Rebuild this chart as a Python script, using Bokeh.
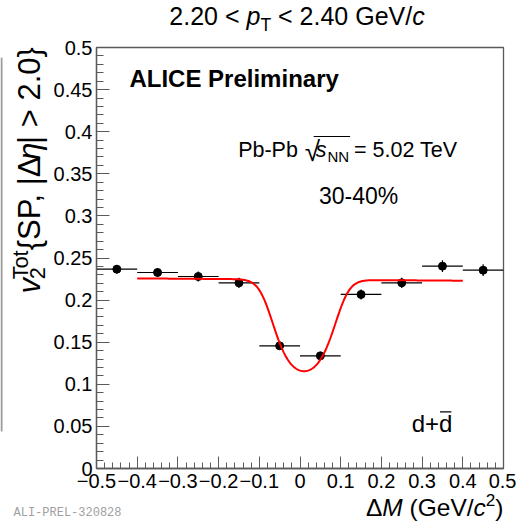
import math
import numpy as np
from bokeh.plotting import figure
from bokeh.layouts import column, row
from bokeh.models import (Label, FixedTicker, CustomJSTickFormatter, Range1d,
                          ColumnDataSource, BoxAnnotation)
from bokeh.embed import file_html
from bokeh.resources import INLINE

# ---- measured v2 vs mass difference (d + dbar, 30-40%, 2.2 < pT < 2.4) ----
dm_centres = [-0.45, -0.35, -0.25, -0.15, -0.05, 0.05, 0.15, 0.25, 0.35, 0.45]
dm_halfwidth = [0.05, 0.05, 0.05, 0.05, 0.05, 0.05, 0.05, 0.05, 0.05, 0.05]
v2_values = [0.2367, 0.2328, 0.2280, 0.2205, 0.1457, 0.1338, 0.2067, 0.2205, 0.2403, 0.2355]
v2_errors = [0.005, 0.005, 0.006, 0.006, 0.004, 0.004, 0.006, 0.006, 0.007, 0.007]

# ---- fit: v2_tot = v2_sig * f + v2_bkg(M) * (1 - f), f = S/(S+B) ----
fit_range = [-0.4, 0.4]
fit_bkg = [0.2244, -0.0034]        # intercept, slope of background v2
fit_v2_sig = 0.0793
fit_peak = [0.010, 0.042]          # mean, sigma of the signal peak
fit_sb_peak = 3.0                  # S/B at the peak

# ---- axes ----
x_ticks = [-0.5, -0.4, -0.3, -0.2, -0.1, 0.0, 0.1, 0.2, 0.3, 0.4, 0.5]
x_tick_labels = ["\u22120.5", "\u22120.4", "\u22120.3", "\u22120.2", "\u22120.1",
                 "0", "0.1", "0.2", "0.3", "0.4", "0.5"]
y_ticks = [0.0, 0.05, 0.1, 0.15, 0.2, 0.25, 0.3, 0.35, 0.4, 0.45, 0.5]
y_tick_labels = ["0", "0.05", "0.1", "0.15", "0.2", "0.25", "0.3", "0.35",
                 "0.4", "0.45", "0.5"]

W, H = 516, 521
FL, FR, FT, FB = 95, 503, 47, 468      # frame edges on the page, pixels
TOP_H = 37                              # title strip height
LEFT_W = 50                             # y-title strip width
BOT_Y = 492                             # top of the x-title strip
X0, X1, Y0, Y1 = -0.5, 0.5, 0.0, 0.5
FONT = "Liberation Sans"
AXIS_GREY = "#5a5a5a"
BASE_FIX = 0.37                         # label anchor -> glyph baseline offset (em)


def text_strip(w, h):
    # plain canvas whose data coordinates are pixels measured from the top-left
    f = figure(width=w, height=h, x_range=Range1d(0, w), y_range=Range1d(h, 0),
               min_border=0, toolbar_location=None, x_axis_type=None,
               y_axis_type=None, output_backend="svg")
    f.outline_line_color = None
    f.background_fill_color = "white"
    f.border_fill_color = "white"
    return f


# ---- main plot ----
p = figure(width=W - LEFT_W, height=BOT_Y - TOP_H,
           x_range=Range1d(X0, X1), y_range=Range1d(Y0, Y1),
           output_backend="svg", toolbar_location=None,
           min_border_left=FL - LEFT_W, min_border_right=W - FR,
           min_border_top=FT - TOP_H, min_border_bottom=BOT_Y - FB)
p.xgrid.visible = False
p.ygrid.visible = False
p.background_fill_color = "white"
p.border_fill_color = "white"
p.outline_line_color = AXIS_GREY
p.outline_line_width = 1.3

fmt_code = """
for (let i = 0; i < t.length; i++) {
  if (Math.abs(t[i] - tick) < 1e-9) return l[i];
}
return "";
"""
p.xaxis.ticker = FixedTicker(ticks=x_ticks,
                             minor_ticks=list(np.round(np.arange(-0.5, 0.5001, 0.02), 3)))
p.xaxis.formatter = CustomJSTickFormatter(args=dict(t=x_ticks, l=x_tick_labels), code=fmt_code)
p.yaxis.ticker = FixedTicker(ticks=y_ticks,
                             minor_ticks=list(np.round(np.arange(0.0, 0.5001, 0.01), 3)))
p.yaxis.formatter = CustomJSTickFormatter(args=dict(t=y_ticks, l=y_tick_labels), code=fmt_code)

for ax, maj, mnr in ((p.xaxis, 12, 6), (p.yaxis, 13, 7)):
    ax.major_tick_in = maj
    ax.major_tick_out = 0
    ax.minor_tick_in = mnr
    ax.minor_tick_out = 0
    ax.axis_line_color = AXIS_GREY
    ax.axis_line_width = 1.3
    ax.major_tick_line_color = AXIS_GREY
    ax.minor_tick_line_color = AXIS_GREY
    ax.major_label_text_font = FONT
    ax.major_label_text_font_size = "20px"
    ax.major_label_text_color = "black"
p.xaxis.major_label_standoff = 5
p.yaxis.major_label_standoff = 4

# ---- data points with error bars ----
src = ColumnDataSource(dict(
    x=dm_centres, y=v2_values,
    xlo=[c - w for c, w in zip(dm_centres, dm_halfwidth)],
    xhi=[c + w for c, w in zip(dm_centres, dm_halfwidth)],
    ylo=[v - e for v, e in zip(v2_values, v2_errors)],
    yhi=[v + e for v, e in zip(v2_values, v2_errors)],
))
p.segment(x0="xlo", x1="xhi", y0="y", y1="y", source=src, line_color="black", line_width=1.2)
p.segment(x0="x", x1="x", y0="ylo", y1="yhi", source=src, line_color="black", line_width=1.2)
p.scatter(x="x", y="y", source=src, size=8, color="black")

# ---- fit curve ----
xf = np.linspace(fit_range[0], fit_range[1], 400)
g = np.exp(-0.5 * ((xf - fit_peak[0]) / fit_peak[1]) ** 2)
frac = fit_sb_peak * g / (fit_sb_peak * g + 1.0)
yf = fit_v2_sig * frac + (fit_bkg[0] + fit_bkg[1] * xf) * (1.0 - frac)
p.line(xf, yf, line_color="red", line_width=2)

# ---- text strips around the plot ----
top = text_strip(W, TOP_H)
left = text_strip(LEFT_W, BOT_Y - TOP_H)
bottom = text_strip(W, H - BOT_Y)


# page pixel -> coordinates of each figure
def in_main(gx, gy):
    return (X0 + (gx - FL) / (FR - FL) * (X1 - X0),
            Y0 + (FB - gy) / (FB - FT) * (Y1 - Y0))


def in_top(gx, gy):
    return gx, gy


def in_left(gx, gy):
    return gx, gy - TOP_H


def in_bottom(gx, gy):
    return gx, gy - BOT_Y


ADV = {' ': .278, '%': .889, '(': .333, ')': .333, ',': .278, '-': .333, '.': .278,
       '/': .278, '<': .584, '=': .584, '>': .584, '+': .584, 'G': .778, 'M': .833,
       'N': .722, 'P': .667, 'S': .667, 'T': .611, 'V': .667, 'b': .556, 'c': .5,
       'd': .556, 'e': .556, 'o': .556, 'p': .556, 's': .5, 't': .278, 'v': .5,
       '{': .334, '}': .334, '|': .26, '\u0394': .668, '\u03b7': .556, '\u221a': .549}


def text_width(text, size):
    return sum(ADV.get(ch, .556) for ch in text) * size


def put(fig, where, text, gx, gy, size, style="normal", rotated=False, color="black",
        font=FONT):
    """Place text with its glyph baseline starting at page pixel (gx, gy)."""
    lead = len(text) - len(text.lstrip())
    adv = text_width(text[:lead], size)
    if rotated:
        gx, gy = gx - BASE_FIX * size, gy - adv
    else:
        gx, gy = gx + adv, gy - BASE_FIX * size
    x, y = where(gx, gy)
    fig.add_layout(Label(x=x, y=y, text=text.strip(), text_font=font,
                         text_font_size=f"{size:.1f}px", text_font_style=style,
                         text_color=color, angle=math.pi / 2 if rotated else 0.0,
                         text_align="left", text_baseline="alphabetic"))


def rich(fig, where, pieces, gx, gy, size, align="left", rotated=False):
    """pieces: (text, style, scale, baseline shift in em, advance?)"""
    total = sum(text_width(t, size * sc) for t, st, sc, sh, adv in pieces if adv)
    start = -total if align == "right" else (-total / 2 if align == "center" else 0.0)
    c = start
    for text, style, scale, shift, adv in pieces:
        s = size * scale
        if rotated:
            put(fig, where, text, gx + shift * size, gy - c, s, style, rotated=True)
        else:
            put(fig, where, text, gx + c, gy + shift * size, s, style)
        if adv:
            c += text_width(text, s)


def hline(fig, where, gx0, gx1, gy, thick=1.2, color="black"):
    x0, y0 = where(gx0, gy + thick / 2)
    x1, y1 = where(gx1, gy - thick / 2)
    fig.add_layout(BoxAnnotation(left=min(x0, x1), right=max(x0, x1),
                                 bottom=min(y0, y1), top=max(y0, y1),
                                 fill_color=color, fill_alpha=1.0, line_alpha=0.0))


# title
rich(top, in_top, [("2.20 < ", "normal", 1.0, 0.0, True),
                   ("p", "italic", 1.0, 0.0, True),
                   ("T", "normal", 0.7, 0.25, True),
                   (" < 2.40 GeV/", "normal", 1.0, 0.0, True),
                   ("c", "italic", 1.0, 0.0, True)], 296.5, 25, 25, align="center")

# y-axis title (rotated)
rich(left, in_left, [("v", "italic", 1.0, 0.0, True),
                     ("2", "normal", 0.7, 0.15, False),
                     ("Tot", "normal", 0.7, -0.38, True),
                     ("{SP, |\u0394", "normal", 1.0, 0.0, True),
                     ("\u03b7", "italic", 1.0, 0.0, True),
                     ("| > 2.0}", "normal", 1.0, 0.0, True)], 40, 303, 31, rotated=True)

# x-axis title
rich(bottom, in_bottom, [("\u0394", "normal", 1.0, 0.0, True),
                         ("M", "italic", 1.0, 0.0, True),
                         (" (GeV/", "normal", 1.0, 0.0, True),
                         ("c", "italic", 1.0, 0.0, True),
                         ("2", "normal", 0.7, -0.42, True),
                         (")", "normal", 1.0, 0.0, True)], 503, 516, 24.5, align="right")

put(bottom, in_bottom, "ALI-PREL-320828", 13, 517, 12, color="#a0a0a0",
    font="Liberation Mono")

put(p, in_main, "ALICE Preliminary", 128, 87, 24, style="bold")

# collision system, with a radical over s_NN
sz = 21.5
put(p, in_main, "Pb-Pb", 237, 157, sz)
rad_x = 237 + text_width("Pb-Pb ", sz) + 1
put(p, in_main, "\u221a", rad_x, 161, sz * 1.3)
s_x = rad_x + 11
put(p, in_main, "s", s_x, 157, sz, style="italic")
nn_x = s_x + text_width("s", sz) + 1
put(p, in_main, "NN", nn_x, 162, sz * 0.7)
eq_x = nn_x + text_width("NN", sz * 0.7) + 5
put(p, in_main, "= 5.02 TeV", eq_x, 157, sz)
hline(p, in_main, rad_x + 9, eq_x - 4, 136)

put(p, in_main, "30-40%", 318, 204, 23)

# particle label with bar over the second d
put(p, in_main, "d+d", 411, 432, 24)
d2 = 411 + text_width("d+", 24)
hline(p, in_main, d2 + 1, d2 + text_width("d", 24) - 1, 432 - 0.86 * 24)

# thin grey strip on the left edge (neighbouring panel border)
sx0, sy0 = in_left(0, 48)
sx1, sy1 = in_left(2, 452)
left.quad(left=[sx0], right=[sx1], top=[sy0], bottom=[sy1],
          fill_color="#9a9a9a", line_color=None)

page = column(top, row(left, p), bottom)
open("out.html", "w").write(file_html(page, INLINE))
